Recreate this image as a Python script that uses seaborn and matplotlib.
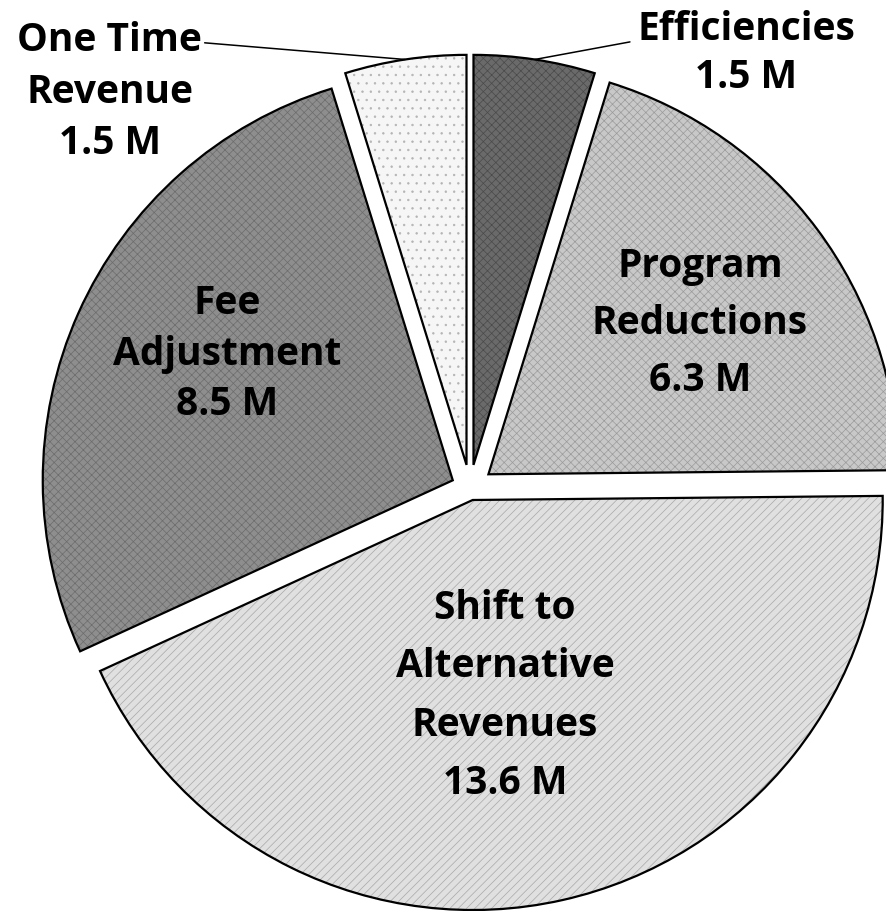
import numpy as np
import matplotlib
matplotlib.use("Agg")
import matplotlib.pyplot as plt
import seaborn as sns

# budget balancing components, clockwise from 12 o'clock
categories = ["Efficiencies", "Program\nReductions", "Shift to\nAlternative\nRevenues",
              "Fee\nAdjustment", "One Time\nRevenue"]
values = [1.5, 6.3, 13.6, 8.5, 1.5]
value_labels = ["1.5 M", "6.3 M", "13.6 M", "8.5 M", "1.5 M"]

sns.set_theme(style="white")
plt.rcParams["font.family"] = ["Open Sans", "DejaVu Sans"]
plt.rcParams["hatch.linewidth"] = 0.5

face_colors = ["#6a6a6a", "#c8c8c8", "#e0e0e0", "#8e8e8e", "#f6f6f6"]
hatch_colors = ["#4a4a4a", "#9a9a9a", "#a8a8a8", "#6c6c6c", "#b4b4b4"]
hatches = ["xxxx", "xxxx", "////", "xxxx", ".."]
explode = [0.057, 0.056, 0.03, 0.046, 0.057]

fig = plt.figure(figsize=(8.86, 9.11), dpi=100)
ax = fig.add_axes([0, 0, 1, 1])

# base fill
wedges, _ = ax.pie(values, explode=explode, startangle=90, counterclock=False,
                   colors=face_colors, wedgeprops=dict(linewidth=0))
# texture
tex, _ = ax.pie(values, explode=explode, startangle=90, counterclock=False,
                hatch=hatches, wedgeprops=dict(fill=False, linewidth=0))
for w, c in zip(tex, hatch_colors):
    w.set_edgecolor(c)
# outlines
ax.pie(values, explode=explode, startangle=90, counterclock=False,
       wedgeprops=dict(fill=False, linewidth=1.6, edgecolor="black"))

ax.set_aspect("auto")
ax.set_xlim(-1.1463, 1.0146)
ax.set_ylim(-1.0317, 1.1902)
ax.axis("off")

font = dict(fontsize=28, fontweight="bold", color="black", ha="center",
            va="center", multialignment="center")

# inside labels (axes fraction positions, line spacing)
inside = {1: (0.790, 0.645, 1.6), 2: (0.570, 0.236, 1.65), 3: (0.256, 0.611, 1.38)}
for i, (x, y, ls) in inside.items():
    ax.text(x, y, categories[i] + "\n" + value_labels[i], transform=ax.transAxes,
            linespacing=ls, **font)

# outside labels with leader lines to the middle of the arc
outside = {0: ((0.842, 0.941), (0.711, 0.954), 1.3),
           4: ((0.124, 0.899), (0.231, 0.953), 1.42)}
for i, (txt_pos, line_start, ls) in outside.items():
    ax.text(txt_pos[0], txt_pos[1], categories[i] + "\n" + value_labels[i],
            transform=ax.transAxes, linespacing=ls, **font)
    w = wedges[i]
    mid = np.deg2rad((w.theta1 + w.theta2) / 2)
    cx, cy = w.center
    arc_pt = (cx + w.r * np.cos(mid), cy + w.r * np.sin(mid))
    ax.annotate("", xy=arc_pt, xycoords="data", xytext=line_start,
                textcoords="axes fraction",
                arrowprops=dict(arrowstyle="-", color="black", lw=1.1,
                                shrinkA=0, shrinkB=0))

fig.savefig("out.png", dpi=100)
